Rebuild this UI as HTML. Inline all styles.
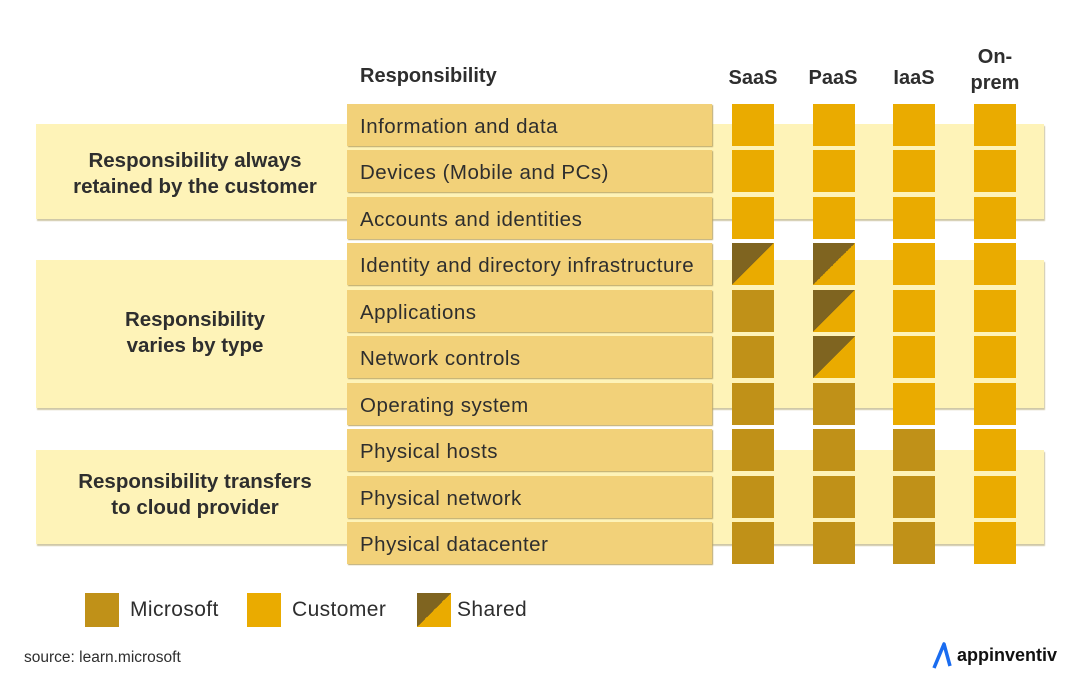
<!DOCTYPE html>
<html><head><meta charset="utf-8"><style>
body{margin:0;width:1080px;height:693px;background:#fff;position:relative;overflow:hidden;font-family:"Liberation Sans",sans-serif;color:#2e2e2e}
div{position:absolute;box-sizing:border-box}
.band{left:36px;width:1008px;background:#fef3b8;box-shadow:1px 2px 1px #cfc8a8}
.bl{font-weight:bold;font-size:20.5px;text-align:center;left:40px;width:310px;line-height:26px}
.lab{left:347px;width:365px;height:42px;background:#f2d179;box-shadow:1px 1px 1px #bba76a;font-size:20.5px;letter-spacing:0.5px;line-height:46px;padding-left:13px;white-space:nowrap}
.sq{width:42px;height:42px}
.C{background:#eaab00}.M{background:#c09118}.S{background:linear-gradient(to top left,#eaab00 50%,#7f6420 50%)}
.h{font-weight:bold;font-size:20px;text-align:center;width:80px;line-height:26px}
.lg{font-size:21px;top:598px;letter-spacing:0.4px}
</style></head><body>
<div class="band" style="top:124px;height:95px"></div>
<div class="band" style="top:260px;height:148px"></div>
<div class="band" style="top:450px;height:94px"></div>
<div class="bl" style="top:148px">Responsibility always<br>retained by the customer</div>
<div class="bl" style="top:307px">Responsibility<br>varies by type</div>
<div class="bl" style="top:469px">Responsibility transfers<br>to cloud provider</div>
<div style="left:360px;top:65px;font-weight:bold;font-size:20px">Responsibility</div>
<div class="h" style="left:713px;top:65px">SaaS</div>
<div class="h" style="left:793px;top:65px">PaaS</div>
<div class="h" style="left:874px;top:65px">IaaS</div>
<div class="h" style="left:955px;top:44px">On-<br>prem</div>

<div class="lab" style="top:104px">Information and data</div>
<div class="lab" style="top:150px">Devices (Mobile and PCs)</div>
<div class="lab" style="top:197px">Accounts and identities</div>
<div class="lab" style="top:243px">Identity and directory infrastructure</div>
<div class="lab" style="top:290px">Applications</div>
<div class="lab" style="top:336px">Network controls</div>
<div class="lab" style="top:383px">Operating system</div>
<div class="lab" style="top:429px">Physical hosts</div>
<div class="lab" style="top:476px">Physical network</div>
<div class="lab" style="top:522px">Physical datacenter</div>

<div class="sq C" style="left:732px;top:104px"></div><div class="sq C" style="left:813px;top:104px"></div><div class="sq C" style="left:893px;top:104px"></div><div class="sq C" style="left:974px;top:104px"></div>
<div class="sq C" style="left:732px;top:150px"></div><div class="sq C" style="left:813px;top:150px"></div><div class="sq C" style="left:893px;top:150px"></div><div class="sq C" style="left:974px;top:150px"></div>
<div class="sq C" style="left:732px;top:197px"></div><div class="sq C" style="left:813px;top:197px"></div><div class="sq C" style="left:893px;top:197px"></div><div class="sq C" style="left:974px;top:197px"></div>
<div class="sq S" style="left:732px;top:243px"></div><div class="sq S" style="left:813px;top:243px"></div><div class="sq C" style="left:893px;top:243px"></div><div class="sq C" style="left:974px;top:243px"></div>
<div class="sq M" style="left:732px;top:290px"></div><div class="sq S" style="left:813px;top:290px"></div><div class="sq C" style="left:893px;top:290px"></div><div class="sq C" style="left:974px;top:290px"></div>
<div class="sq M" style="left:732px;top:336px"></div><div class="sq S" style="left:813px;top:336px"></div><div class="sq C" style="left:893px;top:336px"></div><div class="sq C" style="left:974px;top:336px"></div>
<div class="sq M" style="left:732px;top:383px"></div><div class="sq M" style="left:813px;top:383px"></div><div class="sq C" style="left:893px;top:383px"></div><div class="sq C" style="left:974px;top:383px"></div>
<div class="sq M" style="left:732px;top:429px"></div><div class="sq M" style="left:813px;top:429px"></div><div class="sq M" style="left:893px;top:429px"></div><div class="sq C" style="left:974px;top:429px"></div>
<div class="sq M" style="left:732px;top:476px"></div><div class="sq M" style="left:813px;top:476px"></div><div class="sq M" style="left:893px;top:476px"></div><div class="sq C" style="left:974px;top:476px"></div>
<div class="sq M" style="left:732px;top:522px"></div><div class="sq M" style="left:813px;top:522px"></div><div class="sq M" style="left:893px;top:522px"></div><div class="sq C" style="left:974px;top:522px"></div>

<div class="M" style="left:85px;top:593px;width:34px;height:34px"></div>
<div class="lg" style="left:130px">Microsoft</div>
<div class="C" style="left:247px;top:593px;width:34px;height:34px"></div>
<div class="lg" style="left:292px">Customer</div>
<div class="S" style="left:417px;top:593px;width:34px;height:34px"></div>
<div class="lg" style="left:457px">Shared</div>

<div style="left:24px;top:649px;font-size:15.5px">source: learn.microsoft</div>
<svg style="position:absolute;left:932px;top:642px" width="28" height="28" viewBox="0 0 28 28"><path d="M2 26 L12 2 L18 24" fill="none" stroke="#1a6cf0" stroke-width="3.5" stroke-linejoin="round"/></svg>
<div style="left:957px;top:645px;font-size:18px;font-weight:bold;color:#111">appinventiv</div>
</body></html>
